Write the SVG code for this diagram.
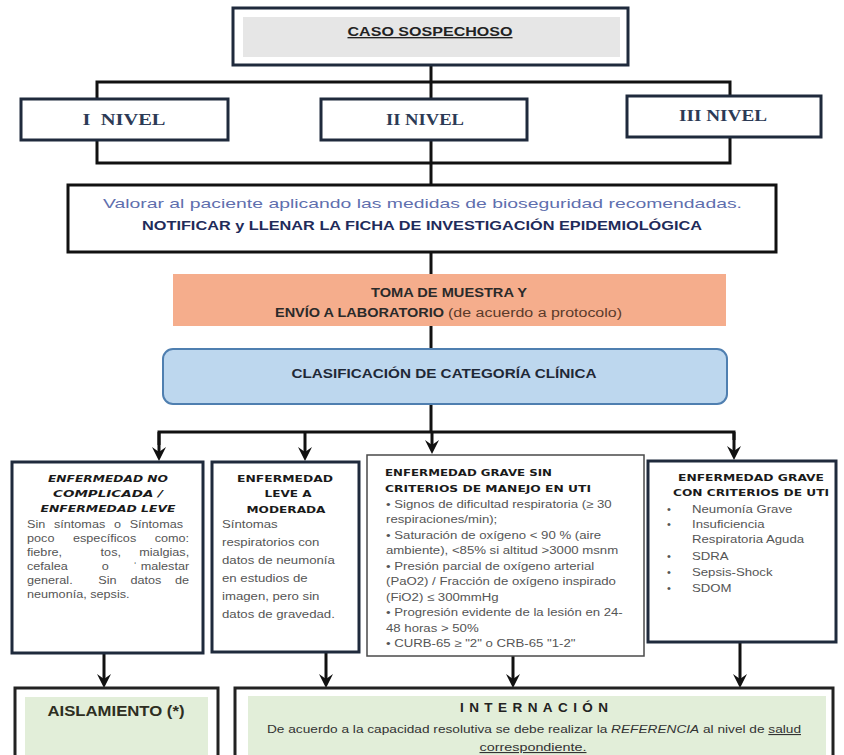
<svg xmlns="http://www.w3.org/2000/svg" width="844" height="755" viewBox="0 0 844 755">
<style>
.bx{fill:#fff;stroke:#1f2a3c;stroke-width:3}
.bx3{fill:#fff;stroke:#4a4a4a;stroke-width:1.5}
.ln{fill:none;stroke:#111;stroke-width:3}
.ar{fill:none;stroke:#111;stroke-width:3;marker-end:url(#ah)}
.sans{font-family:"Liberation Sans",Arial,sans-serif}
.serif{font-family:"Liberation Serif","Times New Roman",serif;font-weight:bold;font-size:17px;fill:#2c3a55;white-space:pre}
.hd{font-family:"DejaVu Sans",sans-serif;font-weight:bold;font-size:9.5px;fill:#1a1a1a}
.bd{font-family:"Liberation Sans",Arial,sans-serif;font-size:11px;fill:#555}
.mid{text-anchor:middle}
.end{text-anchor:end}
.green{fill:#e2eed9}
</style>
<defs>
<marker id="ah" viewBox="0 0 14 14" refX="9" refY="7" markerWidth="14" markerHeight="14" markerUnits="userSpaceOnUse" orient="auto">
<path d="M0,0 L14,7 L0,14 L5,7 Z" fill="#111"/>
</marker>
</defs>

<g id="connectors">
<path class="ln" d="M431,65 V99"/>
<path class="ln" d="M97,99 V82 H730 V96"/>
<path class="ln" d="M97,140 V163 H730 V137"/>
<path class="ln" d="M431,140 V185"/>
<path class="ln" d="M431,252 V274"/>
<path class="ln" d="M431,326 V349"/>
<path class="ln" d="M431,404 V432"/>
<path class="ln" d="M159,445 V432 H734 V440"/>
<path class="ar" d="M159,432 V456"/>
<path class="ar" d="M305,432 V456"/>
<path class="ar" d="M432,432 V449"/>
<path class="ar" d="M734,432 V455"/>
<path class="ar" d="M104,653 V683"/>
<path class="ar" d="M326,652 V683"/>
<path class="ar" d="M513,656 V683"/>
<path class="ar" d="M740,642 V683"/>
</g>

<g id="caso">
<rect class="bx" x="233" y="8" width="395" height="57"/>
<rect x="243" y="17" width="377" height="40" fill="#e6e6e6"/>
<text class="sans mid" x="430" y="36" font-size="13.5" font-weight="bold" fill="#222" text-decoration="underline" textLength="165" lengthAdjust="spacingAndGlyphs">CASO SOSPECHOSO</text>
</g>

<g id="nivel1">
<rect class="bx" x="21" y="99" width="207" height="41"/>
<text class="serif mid" x="124" y="125" textLength="83" lengthAdjust="spacingAndGlyphs">I  NIVEL</text>
</g>
<g id="nivel2">
<rect class="bx" x="321" y="99" width="206" height="41"/>
<text class="serif mid" x="425" y="125" textLength="78" lengthAdjust="spacingAndGlyphs">II NIVEL</text>
</g>
<g id="nivel3">
<rect class="bx" x="627" y="96" width="194" height="41"/>
<text class="serif mid" x="723" y="121" textLength="88" lengthAdjust="spacingAndGlyphs">III NIVEL</text>
</g>

<g id="valorar">
<rect x="68" y="185" width="708" height="67" fill="#fff" stroke="#111" stroke-width="3"/>
<text class="sans mid" x="422.5" y="208" font-size="13.5" fill="#5f6fae" textLength="639" lengthAdjust="spacingAndGlyphs">Valorar al paciente aplicando las medidas de bioseguridad recomendadas.</text>
<text class="sans mid" x="422" y="230" font-size="13" font-weight="bold" fill="#1f2b5a" textLength="560" lengthAdjust="spacingAndGlyphs">NOTIFICAR y LLENAR LA FICHA DE INVESTIGACIÓN EPIDEMIOLÓGICA</text>
</g>

<g id="toma">
<rect x="173" y="274" width="553" height="52" fill="#f5ad8c"/>
<text class="sans mid" x="449" y="297" font-size="12.5" font-weight="bold" fill="#2a2a2a" textLength="156" lengthAdjust="spacingAndGlyphs">TOMA DE MUESTRA Y</text>
<text class="sans" x="275" y="317" font-size="12.5" font-weight="bold" fill="#2a2a2a" textLength="169" lengthAdjust="spacingAndGlyphs">ENVÍO A LABORATORIO</text>
<text class="sans" x="448" y="317" font-size="12.5" fill="#5b3a2a" textLength="174" lengthAdjust="spacingAndGlyphs">(de acuerdo a protocolo)</text>
</g>

<g id="clasificacion">
<rect x="163" y="349" width="564" height="55" rx="10" fill="#bdd7ee" stroke="#4f7fb0" stroke-width="2"/>
<text class="sans mid" x="444" y="378" font-size="13.5" font-weight="bold" fill="#1f2836" textLength="305" lengthAdjust="spacingAndGlyphs">CLASIFICACIÓN DE CATEGORÍA CLÍNICA</text>
</g>

<g id="leve">
<rect class="bx" x="12" y="462" width="191" height="191"/>
<text class="hd mid" x="108" y="482" font-style="italic" textLength="120" lengthAdjust="spacingAndGlyphs">ENFERMEDAD NO</text>
<text class="hd mid" x="108" y="497" font-style="italic" textLength="110" lengthAdjust="spacingAndGlyphs">COMPLICADA /</text>
<text class="hd mid" x="108" y="512" font-style="italic" textLength="135" lengthAdjust="spacingAndGlyphs">ENFERMEDAD LEVE</text>
<g transform="translate(27 0) scale(1.15 1)">
<text class="bd" x="0" y="528" word-spacing="4.5">Sin síntomas o Síntomas</text>
<text class="bd" x="0" y="542">poco</text>
<text class="bd" x="40" y="542">específicos</text>
<text class="bd end" x="141" y="542">como:</text>
<text class="bd" x="0" y="556">fiebre,</text>
<text class="bd" x="64" y="556">tos,</text>
<text class="bd end" x="141" y="556">mialgias,</text>
<text class="bd" x="0" y="570">cefalea</text>
<text class="bd" x="65" y="570">o</text>
<text class="bd end" x="141" y="570">ˈ malestar</text>
<text class="bd" x="0" y="584">general.</text>
<text class="bd" x="62" y="584">Sin</text>
<text class="bd" x="90" y="584">datos</text>
<text class="bd end" x="141" y="584">de</text>
<text class="bd" x="0" y="598">neumonía, sepsis.</text>
</g>
</g>

<g id="moderada">
<rect class="bx" x="212" y="462" width="147" height="190"/>
<text class="hd mid" x="285" y="482" textLength="96" lengthAdjust="spacingAndGlyphs">ENFERMEDAD</text>
<text class="hd mid" x="288" y="497" textLength="47" lengthAdjust="spacingAndGlyphs">LEVE A</text>
<text class="hd mid" x="286" y="513" textLength="79" lengthAdjust="spacingAndGlyphs">MODERADA</text>
<g transform="translate(222 0) scale(1.2 1)">
<text class="bd" x="0" y="528">Síntomas</text>
<text class="bd" x="0" y="546">respiratorios con</text>
<text class="bd" x="0" y="564">datos de neumonía</text>
<text class="bd" x="0" y="582">en estudios de</text>
<text class="bd" x="0" y="600">imagen, pero sin</text>
<text class="bd" x="0" y="618">datos de gravedad.</text>
</g>
</g>

<g id="grave-sin-uti">
<rect class="bx3" x="367" y="455" width="277" height="201"/>
<text class="hd" x="385" y="476" textLength="167" lengthAdjust="spacingAndGlyphs">ENFERMEDAD GRAVE SIN</text>
<text class="hd" x="385" y="492" textLength="206" lengthAdjust="spacingAndGlyphs">CRITERIOS DE MANEJO EN UTI</text>
<g transform="translate(386 0) scale(1.2 1)">
<text class="bd" x="0" y="508">• Signos de dificultad respiratoria (≥ 30</text>
<text class="bd" x="0" y="523">respiraciones/min);</text>
<text class="bd" x="0" y="539">• Saturación de oxígeno &lt; 90 % (aire</text>
<text class="bd" x="0" y="554">ambiente), &lt;85% si altitud &gt;3000 msnm</text>
<text class="bd" x="0" y="570">• Presión parcial de oxígeno arterial</text>
<text class="bd" x="0" y="585">(PaO2) / Fracción de oxígeno inspirado</text>
<text class="bd" x="0" y="601">(FiO2) ≤ 300mmHg</text>
<text class="bd" x="0" y="616">• Progresión evidente de la lesión en 24-</text>
<text class="bd" x="0" y="632">48 horas &gt; 50%</text>
<text class="bd" x="0" y="647">• CURB-65 ≥ "2" o CRB-65 "1-2"</text>
</g>
</g>

<g id="grave-con-uti">
<rect class="bx" x="648" y="461" width="188" height="181"/>
<text class="hd mid" x="751" y="481" textLength="146" lengthAdjust="spacingAndGlyphs">ENFERMEDAD GRAVE</text>
<text class="hd mid" x="751" y="496" textLength="156" lengthAdjust="spacingAndGlyphs">CON CRITERIOS DE UTI</text>
<text class="bd" x="667" y="513">•</text>
<text class="bd" x="667" y="528">•</text>
<text class="bd" x="667" y="560">•</text>
<text class="bd" x="667" y="576">•</text>
<text class="bd" x="667" y="592">•</text>
<g transform="translate(692 0) scale(1.2 1)">
<text class="bd" x="0" y="513">Neumonía Grave</text>
<text class="bd" x="0" y="528">Insuficiencia</text>
<text class="bd" x="0" y="543">Respiratoria Aguda</text>
<text class="bd" x="0" y="560">SDRA</text>
<text class="bd" x="0" y="576">Sepsis-Shock</text>
<text class="bd" x="0" y="592">SDOM</text>
</g>
</g>

<g id="aislamiento">
<rect class="bx" x="15" y="688" width="203" height="72" style="stroke:#222"/>
<rect class="green" x="25" y="697" width="183" height="58"/>
<text class="sans mid" x="116" y="716" font-size="15" font-weight="bold" fill="#2e2e22" textLength="137" lengthAdjust="spacingAndGlyphs">AISLAMIENTO (*)</text>
</g>

<g id="internacion">
<rect class="bx" x="235" y="688" width="598" height="72" style="stroke:#222"/>
<rect class="green" x="248" y="696" width="578" height="59"/>
<text class="sans mid" x="534" y="712" font-size="13.5" font-weight="bold" fill="#222" textLength="148" lengthAdjust="spacing">INTERNACIÓN</text>
<text class="sans" x="267" y="733" font-size="11" fill="#333" textLength="534" lengthAdjust="spacingAndGlyphs">De acuerdo a la capacidad resolutiva se debe realizar la <tspan font-style="italic">REFERENCIA</tspan> al nivel de <tspan text-decoration="underline">salud</tspan></text>
<text class="sans mid" x="533" y="751" font-size="11" fill="#333" text-decoration="underline" textLength="107" lengthAdjust="spacingAndGlyphs">correspondiente.</text>
</g>
</svg>
